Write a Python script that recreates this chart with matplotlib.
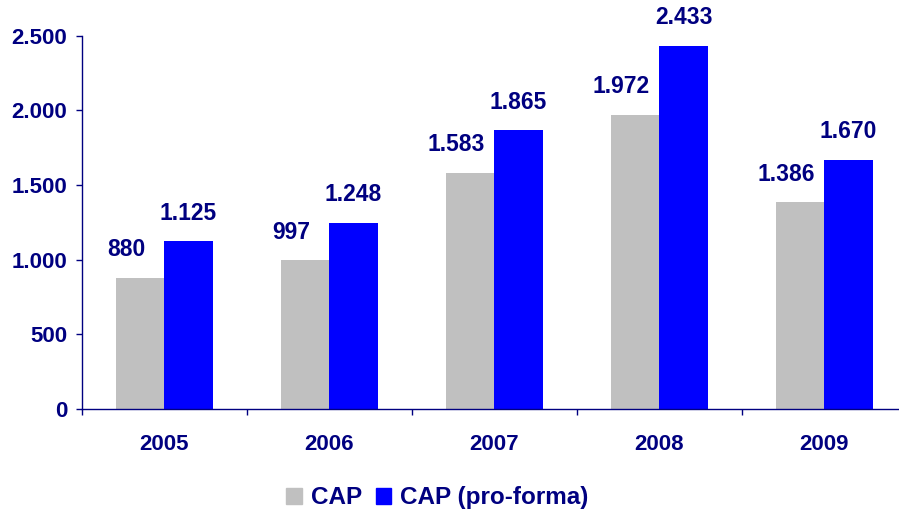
import numpy as np
import matplotlib.pyplot as plt
from matplotlib.patches import Patch

plt.rcParams['font.family'] = ['Liberation Sans', 'DejaVu Sans']

years = ['2005', '2006', '2007', '2008', '2009']
cap = [880, 997, 1583, 1972, 1386]
cap_proforma = [1125, 1248, 1865, 2433, 1670]
y_ticks = [0, 500, 1000, 1500, 2000, 2500]

NAVY = '#000080'
GRAY = '#C0C0C0'
BLUE = '#0000FF'


def fmt(v):
    # thousands separator as a dot
    return f"{v:,}".replace(',', '.')


fig = plt.figure(figsize=(8.99, 5.16), dpi=100)
ax = fig.add_axes([0.0908, 0.2074, 0.918, 0.7235])

x = np.arange(len(years))
w = 0.294
ax.bar(x - w / 2, cap, width=w, color=GRAY, zorder=2)
ax.bar(x + w / 2, cap_proforma, width=w, color=BLUE, zorder=2)

for xi, v in zip(x, cap):
    ax.annotate(fmt(v), (xi - w / 2, v), xytext=(-10, 20), textcoords='offset points',
                ha='center', va='center', fontsize=16.5, fontweight='bold', color=NAVY)
for xi, v in zip(x, cap_proforma):
    ax.annotate(fmt(v), (xi + w / 2, v), xytext=(0, 20), textcoords='offset points',
                ha='center', va='center', fontsize=16.5, fontweight='bold', color=NAVY)

ax.set_xlim(-0.5, len(years) - 0.5)
ax.set_ylim(0, 2500)
ax.set_yticks(y_ticks)
ax.set_yticklabels([fmt(t) for t in y_ticks])
ax.set_xticks(x)
ax.set_xticklabels(years)
ax.set_xticks(np.arange(len(years) + 1) - 0.5, minor=True)

ax.tick_params(axis='y', direction='out', length=4.5, width=1, color=NAVY, labelcolor=NAVY,
               labelsize=16, pad=6)
ax.tick_params(axis='x', which='major', length=0, labelcolor=NAVY, labelsize=16, pad=18)
ax.tick_params(axis='x', which='minor', direction='out', length=4.5, width=1, color=NAVY)
for lab in ax.get_xticklabels() + ax.get_yticklabels():
    lab.set_fontweight('bold')

for s in ['top', 'right']:
    ax.spines[s].set_visible(False)
for s in ['left', 'bottom']:
    ax.spines[s].set_color(NAVY)
    ax.spines[s].set_linewidth(1)

handles = [Patch(color=GRAY, label='CAP'), Patch(color=BLUE, label='CAP (pro-forma)')]
leg = fig.legend(handles=handles, loc='center', bbox_to_anchor=(0.4866, 0.035), ncol=2,
                 frameon=False, prop={'size': 17.5, 'weight': 'bold'},
                 handlelength=0.63, handleheight=0.63, handletextpad=0.37, columnspacing=0.58)
for t in leg.get_texts():
    t.set_color(NAVY)

fig.savefig('out.png', dpi=100)
